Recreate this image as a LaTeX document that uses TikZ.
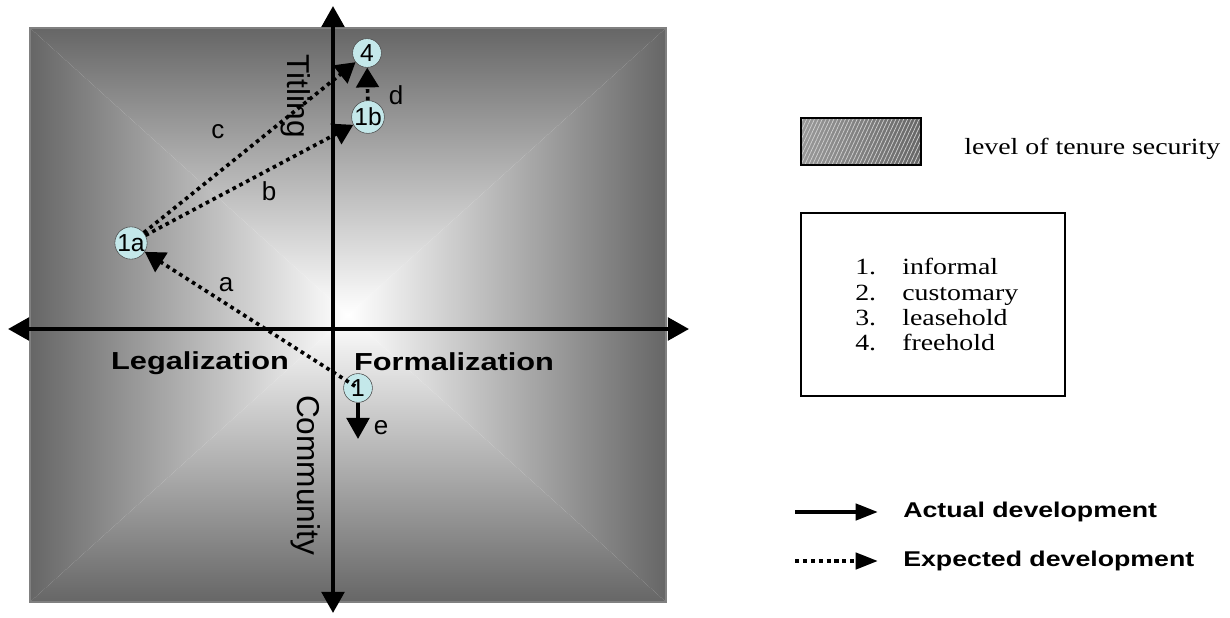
\documentclass[tikz,border=0pt]{standalone}
\usepackage{fontspec}
\setmainfont{Liberation Sans}
\newfontfamily\keyserif{Liberation Serif}[FakeStretch=1.2]
\newfontfamily\keysans{Liberation Sans}[FakeStretch=1.25]
\usetikzlibrary{arrows.meta,patterns.meta}

\definecolor{edgegray}{RGB}{102,102,102}
\definecolor{rimgray}{RGB}{128,128,128}
\definecolor{stagefill}{RGB}{196,232,234}

\tikzset{
  axisline/.style={line width=2.8pt,{Triangle[length=15pt,width=16pt]}-{Triangle[length=15pt,width=16pt]}},
  stage/.style={circle,draw=black!70,fill=stagefill,inner sep=0pt,minimum size=0.72cm,font=\fontsize{17.5}{17.5}\selectfont},
  expected/.style={line width=2.6pt,dash pattern=on 2.6pt off 2.8pt,-{Triangle[length=14pt,width=16pt]}},
  actual/.style={line width=2.8pt,-{Triangle[length=15pt,width=16pt]}},
  pathlabel/.style={font=\fontsize{18.5}{18.5}\selectfont},
  sidelabel/.style={inner sep=0pt,font=\fontsize{17.5}{17.5}\selectfont\keysans\bfseries},
  uplabel/.style={rotate=-90,font=\fontsize{22.5}{22.5}\selectfont},
  keytext/.style={anchor=base west,inner sep=0pt,font=\fontsize{16.5}{16.5}\selectfont\keyserif},
  keyarrow/.style={line width=3pt,-{Triangle[length=16pt,width=11.5pt]}},
  keyname/.style={anchor=west,inner sep=0pt,font=\fontsize{15.2}{15.2}\selectfont\keysans\bfseries}
}

\begin{document}
\begin{tikzpicture}[x=0.025cm,y=-0.025cm]
\useasboundingbox (0,0) rectangle (1230,618);

% Shaded field: four triangles, dark at the rim, white in the middle
\coordinate (mid) at (348,315);
\shade[left color=edgegray,middle color=gray!40,right color=white] (30,28) -- (30,602) -- (mid) -- cycle;
\shade[top color=edgegray,middle color=gray!40,bottom color=white] (30,28) -- (666,28) -- (mid) -- cycle;
\shade[left color=white,middle color=gray!40,right color=edgegray] (666,28) -- (666,602) -- (mid) -- cycle;
\shade[top color=white,middle color=gray!40,bottom color=edgegray] (30,602) -- (666,602) -- (mid) -- cycle;
\draw[rimgray,line width=0.8pt] (30,28) rectangle (666,602);

% Axes
\coordinate (west) at (8,329);
\coordinate (east) at (689,329);
\coordinate (north) at (333,6);
\coordinate (south) at (333,613);
\draw[axisline] (west) -- (east);
\draw[axisline] (north) -- (south);

\node[sidelabel] (legal) at (200,363) {Legalization};
\node[sidelabel] (formal) at (454,362) {Formalization};
\node[uplabel] (titling) at (296,96) {Titling};
\node[uplabel] (community) at (306,475) {Community};

% Stages
\node[stage] (n4) at (367,53) {4};
\node[stage] (n1b) at (368,117) {1b};
\node[stage] (n1a) at (131,243) {1a};
\node[stage] (n1) at (358,388) {1};

% Moves between stages
\draw[expected,shorten <=-8pt] (n1) -- (n1a);
\draw[expected] (n1a) -- (n1b);
\draw[expected] (n1a) -- (n4);
\draw[expected] (n1b) -- (n4);
\coordinate (down) at (358,439);
\draw[actual] (n1) -- (down);

\node[pathlabel] (la) at (226,285) {a};
\node[pathlabel] (lb) at (269,191) {b};
\node[pathlabel] (lc) at (218,132) {c};
\node[pathlabel] (ld) at (396,95) {d};
\node[pathlabel] (le) at (381,428) {e};

% Key: shading swatch
\shade[left color=gray!80,right color=gray!80!black] (801,118) rectangle (921,165);
\fill[pattern={Lines[angle=65,distance=2.5pt,line width=0.5pt]},pattern color=gray!35] (801,118) rectangle (921,165);
\draw[line width=1.4pt] (801,118) rectangle (921,165);
\node[keytext] (security) at (964,154) {level of tenure security};

% Key: tenure types
\draw[line width=1.4pt] (801,213) rectangle (1065,396);
\foreach \num/\kind/\y in {1/informal/274,2/customary/300,3/leasehold/325,4/freehold/350}{
  \node[keytext] (num\num) at (855,\y) {\num.};
  \node[keytext] (kind\num) at (902,\y) {\kind};
}

% Key: line types
\coordinate (actfrom) at (795,512);
\coordinate (actto) at (878,512);
\coordinate (expfrom) at (795,561);
\coordinate (expto) at (878,561);
\draw[keyarrow] (actfrom) -- (actto);
\draw[keyarrow,dash pattern=on 3pt off 2.6pt] (expfrom) -- (expto);
\node[keyname] (actual) at (903,512) {Actual development};
\node[keyname] (expected) at (903,561) {Expected development};
\end{tikzpicture}
\end{document}
